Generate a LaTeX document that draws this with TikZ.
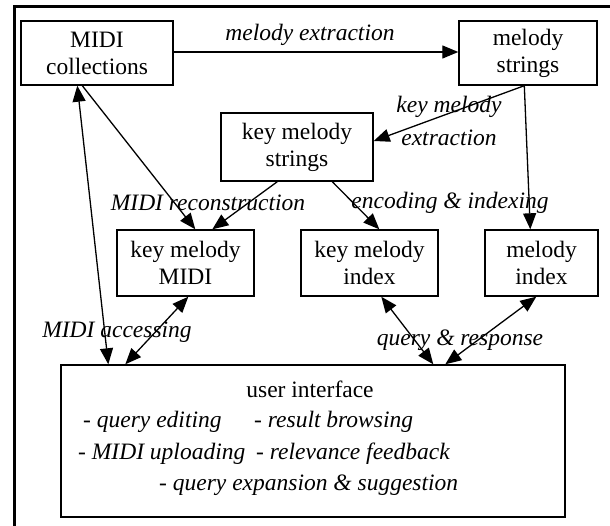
\documentclass[tikz,border=0pt]{standalone}
\usepackage{fontspec}
\setmainfont{Liberation Serif}
\usetikzlibrary{arrows.meta}
\begin{document}
\begin{tikzpicture}[x=1pt,y=-1pt,
  every node/.style={font=\fontsize{23.5}{27}\selectfont},
  box/.style={draw,line width=1.4pt,inner sep=0pt,align=center},
  lbl/.style={font=\fontsize{23.5}{27}\selectfont\itshape,inner sep=0pt},
  uitxt/.style={font=\fontsize{23.5}{27}\selectfont\itshape,inner sep=0pt,anchor=base west},
  conn/.style={line width=1.3pt,-{Triangle[length=16pt,width=13pt]}},
  conn2/.style={line width=1.3pt,{Triangle[length=16pt,width=13pt]}-{Triangle[length=16pt,width=13pt]}}]
\useasboundingbox (0,0) rectangle (610,526);
\coordinate (frameA) at (14,526);
\coordinate (frameB) at (14,7);
\coordinate (frameC) at (610,7);
\draw[line width=3pt] (frameA) -- (frameB) -- (frameC);

% boxes
\node[box,minimum width=152pt,minimum height=64pt] (MC) at (97,53) {MIDI\\collections};
\node[box,minimum width=138pt,minimum height=64pt] (MS) at (528,53) {melody\\strings};
\node[box,minimum width=152pt,minimum height=68pt] (KMS) at (297,147) {key melody\\strings};
\node[box,minimum width=137pt,minimum height=66pt] (KMM) at (185.5,263) {key melody\\MIDI};
\node[box,minimum width=137pt,minimum height=66pt] (KMI) at (369.5,263) {key melody\\index};
\node[box,minimum width=113pt,minimum height=66pt] (MI) at (541.5,263) {melody\\index};
\node[box,minimum width=504pt,minimum height=152pt] (UI) at (313,441) {};

% UI texts
\node[inner sep=0pt,anchor=base] (uit) at (310,397) {user interface};
\node[uitxt] (ui1) at (83,427) {- query editing};
\node[uitxt] (ui2) at (254,427) {- result browsing};
\node[uitxt] (ui3) at (78,459) {- MIDI uploading};
\node[uitxt] (ui4) at (256,459) {- relevance feedback};
\node[uitxt] (ui5) at (159,490) {- query expansion \& suggestion};

% labels
\node[lbl] (l1) at (310,35) {melody extraction};
\node[lbl] (l2a) at (449,107) {key melody};
\node[lbl] (l2b) at (449,138) {extraction};
\node[lbl] (l3) at (208,203) {MIDI reconstruction};
\node[lbl] (l4) at (450,203) {encoding \& indexing};
\node[lbl] (l5) at (117,332) {MIDI accessing};
\node[lbl] (l6) at (460,340) {query \& response};

% connectors
\draw[conn] (MC.east |- 0,52) -- (MS.west |- 0,52);
\draw[conn] ([xshift=66pt]MS.south west) -- ([yshift=6pt]KMS.east);
\draw[conn] ([xshift=66pt]MS.south west) -- ([xshift=46pt]MI.north west);
\draw[conn] ([xshift=57pt]KMS.south west) -- ([xshift=96pt]KMM.north west);
\draw[conn] ([xshift=112pt]KMS.south west) -- ([xshift=79pt]KMI.north west);
\draw[conn] ([xshift=62pt]MC.south west) -- ([xshift=79pt]KMM.north west);
\draw[conn2] ([xshift=57pt]MC.south west) -- ([xshift=48pt]UI.north west);
\draw[conn2] ([xshift=72pt]KMM.south west) -- ([xshift=65pt]UI.north west);
\draw[conn2] ([xshift=81pt]KMI.south west) -- ([xshift=373pt]UI.north west);
\draw[conn2] ([xshift=52pt]MI.south west) -- ([xshift=385pt]UI.north west);
\end{tikzpicture}
\end{document}
